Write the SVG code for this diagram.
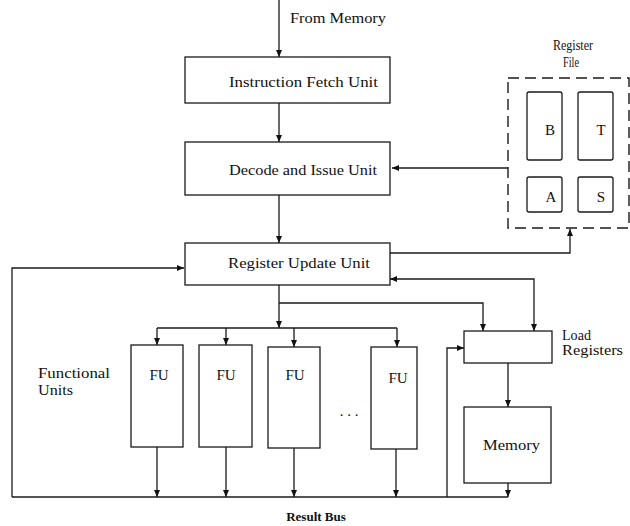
<svg xmlns="http://www.w3.org/2000/svg" width="630" height="526" viewBox="0 0 630 526">
<style>
.box{fill:#fff;stroke:#1a1a1a;stroke-width:1.3}
.dash{fill:none;stroke:#1a1a1a;stroke-width:1.4;stroke-dasharray:11 6}
.ln{fill:none;stroke:#1a1a1a;stroke-width:1.3}
.t{font-family:"Liberation Serif",serif;font-size:15px;fill:#111}
.b{font-family:"Liberation Serif",serif;font-size:13px;font-weight:bold;fill:#111}
</style>
<defs>
<marker id="ah" markerWidth="8" markerHeight="8" refX="7" refY="4" orient="auto-start-reverse" markerUnits="userSpaceOnUse">
<path d="M0,1 L7,4 L0,7 Z" fill="#111"/>
</marker>
</defs>
<rect width="630" height="526" fill="#fff"/>
<g id="connectors">
<line class="ln" x1="279" y1="0" x2="279" y2="57" marker-end="url(#ah)"/>
<line class="ln" x1="279" y1="103" x2="279" y2="142" marker-end="url(#ah)"/>
<line class="ln" x1="279" y1="195" x2="279" y2="243" marker-end="url(#ah)"/>
<line class="ln" x1="508" y1="168" x2="392" y2="168" marker-end="url(#ah)"/>
<polyline class="ln" points="390,253 570,253 570,229" marker-end="url(#ah)"/>
<polyline class="ln" points="390,279 534,279 534,331" marker-start="url(#ah)" marker-end="url(#ah)"/>
<line class="ln" x1="279" y1="285" x2="279" y2="328" marker-end="url(#ah)"/>
<polyline class="ln" points="279,303 483,303 483,331" marker-end="url(#ah)"/>
<line class="ln" x1="157" y1="328" x2="397" y2="328"/>
<line class="ln" x1="157" y1="328" x2="157" y2="345" marker-end="url(#ah)"/>
<line class="ln" x1="226" y1="328" x2="226" y2="345" marker-end="url(#ah)"/>
<line class="ln" x1="294" y1="328" x2="294" y2="347" marker-end="url(#ah)"/>
<line class="ln" x1="397" y1="328" x2="397" y2="347" marker-end="url(#ah)"/>
<line class="ln" x1="157" y1="447" x2="157" y2="497" marker-end="url(#ah)"/>
<line class="ln" x1="226" y1="447" x2="226" y2="497" marker-end="url(#ah)"/>
<line class="ln" x1="294" y1="448" x2="294" y2="497" marker-end="url(#ah)"/>
<line class="ln" x1="396" y1="449" x2="396" y2="497" marker-end="url(#ah)"/>
<line class="ln" x1="508" y1="483" x2="508" y2="497" marker-end="url(#ah)"/>
<line class="ln" x1="12" y1="497" x2="508" y2="497"/>
<polyline class="ln" points="12,497 12,268 184,268" marker-end="url(#ah)"/>
<polyline class="ln" points="447,497 447,348 464,348" marker-end="url(#ah)"/>
<line class="ln" x1="508" y1="363" x2="508" y2="407" marker-end="url(#ah)"/>
</g>
<text class="t" x="290" y="23" textLength="96" lengthAdjust="spacingAndGlyphs">From Memory</text>
<g id="ifu">
<rect class="box" x="185" y="57" width="205" height="46"/>
<text class="t" x="229" y="87" textLength="149" lengthAdjust="spacingAndGlyphs">Instruction Fetch Unit</text>
</g>
<g id="diu">
<rect class="box" x="185" y="142" width="205" height="53"/>
<text class="t" x="229" y="175" textLength="148" lengthAdjust="spacingAndGlyphs">Decode and Issue Unit</text>
</g>
<g id="ruu">
<rect class="box" x="185" y="243" width="205" height="42"/>
<text class="t" x="228" y="268" textLength="142" lengthAdjust="spacingAndGlyphs">Register Update Unit</text>
</g>
<g id="regfile">
<text class="t" x="553" y="50" textLength="40" lengthAdjust="spacingAndGlyphs">Register</text>
<text class="t" x="563" y="67" textLength="16" lengthAdjust="spacingAndGlyphs">File</text>
<rect class="dash" x="508" y="78" width="121" height="150"/>
<g id="reg-b"><rect class="box" x="527" y="92" width="35" height="68" rx="2"/><text class="t" x="550" y="135" text-anchor="middle">B</text></g>
<g id="reg-t"><rect class="box" x="578" y="92" width="35" height="68" rx="2"/><text class="t" x="601" y="135" text-anchor="middle">T</text></g>
<g id="reg-a"><rect class="box" x="527" y="177" width="35" height="35" rx="2"/><text class="t" x="551" y="202" text-anchor="middle">A</text></g>
<g id="reg-s"><rect class="box" x="578" y="177" width="35" height="35" rx="2"/><text class="t" x="601" y="202" text-anchor="middle">S</text></g>
</g>
<text class="t" x="38" y="378" textLength="72" lengthAdjust="spacingAndGlyphs">Functional</text>
<text class="t" x="38" y="395" textLength="35" lengthAdjust="spacingAndGlyphs">Units</text>
<g id="fu1"><rect class="box" x="131" y="345" width="52" height="102"/><text class="t" x="159" y="380" text-anchor="middle">FU</text></g>
<g id="fu2"><rect class="box" x="199" y="345" width="53" height="102"/><text class="t" x="226" y="380" text-anchor="middle">FU</text></g>
<g id="fu3"><rect class="box" x="268" y="347" width="52" height="101"/><text class="t" x="295" y="380" text-anchor="middle">FU</text></g>
<text class="t" x="349" y="416" text-anchor="middle">. . .</text>
<g id="fu4"><rect class="box" x="371" y="347" width="46" height="102"/><text class="t" x="398" y="383" text-anchor="middle">FU</text></g>
<g id="loadreg">
<rect class="box" x="464" y="331" width="88" height="32"/>
<text class="t" x="562" y="340" textLength="29" lengthAdjust="spacingAndGlyphs">Load</text>
<text class="t" x="562" y="355" textLength="61" lengthAdjust="spacingAndGlyphs">Registers</text>
</g>
<g id="memory">
<rect class="box" x="464" y="407" width="87" height="76"/>
<text class="t" x="483" y="450" textLength="57" lengthAdjust="spacingAndGlyphs">Memory</text>
</g>
<text class="b" x="316" y="521" text-anchor="middle">Result Bus</text>
</svg>
